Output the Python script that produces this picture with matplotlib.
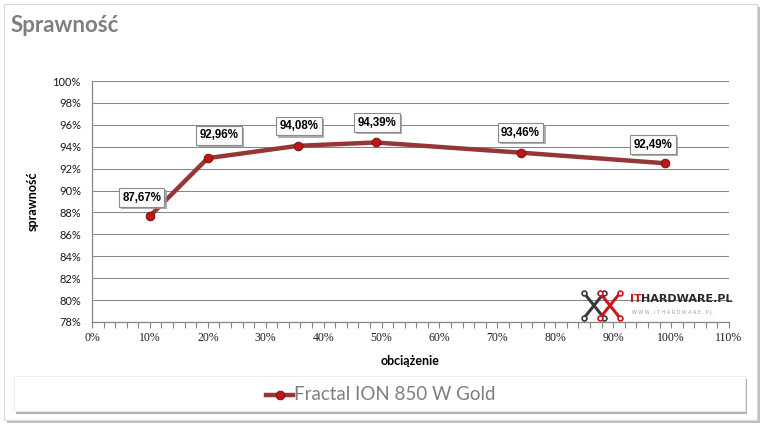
import numpy as np
import matplotlib
matplotlib.use('Agg')
import matplotlib.pyplot as plt
import matplotlib.patheffects as pe
from matplotlib.patches import Rectangle
from matplotlib.ticker import MultipleLocator, FuncFormatter

# data
load_pct = [10, 20, 35.5, 49, 74, 99]
efficiency = [87.67, 92.96, 94.08, 94.39, 93.46, 92.49]
series_name = 'Fractal ION 850 W Gold'

LINE_CLR = '#953735'
MARK_CLR = '#c0161b'
GRID_CLR = '#868686'
TITLE_CLR = '#7f7f7f'

fig = plt.figure(figsize=(7.68, 4.28), dpi=100)
fig.patch.set_facecolor('white')

# outer chart frame with shadow
W, H = 768.0, 428.0
def fr(x0, y0, x1, y1):
    return (x0 / W, 1 - y1 / H), (x1 - x0) / W, (y1 - y0) / H

xy, w, h = fr(4, 4, 757, 420)
fig.patches.append(Rectangle((xy[0] + 3 / W, xy[1] - 3 / H), w, h, transform=fig.transFigure,
                             fc='#bfbfbf', ec='none', zorder=-3))
fig.patches.append(Rectangle(xy, w, h, transform=fig.transFigure,
                             fc='white', ec='#d9d9d9', lw=0.8, zorder=-2.9))

# legend box with shadow
xy, w, h = fr(14, 376, 745, 411)
fig.patches.append(Rectangle((xy[0] + 2 / W, xy[1] - 3 / H), w, h, transform=fig.transFigure,
                             fc='#b3b3b3', ec='none', zorder=-2.8))
fig.patches.append(Rectangle(xy, w, h, transform=fig.transFigure,
                             fc='white', ec='#ececec', lw=0.6, zorder=-2.7))

fig.text(11 / W, 1 - 25 / H, 'Sprawność', fontsize=16, fontweight='bold',
         family='Lato', color=TITLE_CLR, va='center', ha='left')

ax = fig.add_axes([92 / W, 1 - 322 / H, (729 - 92) / W, (322 - 81) / H])
ax.set_facecolor('none')
ax.set_zorder(2)

ax.plot(load_pct, efficiency, color=LINE_CLR, lw=3.2, zorder=3, solid_capstyle='round')
ax.plot(load_pct, efficiency, ls='none', marker='o', ms=6.2, mfc=MARK_CLR,
        mec='#7a1010', mew=0.7, zorder=4)

# data labels (offsets in points)
label_off = [(-6, 9), (8, 12), (1, 10), (1, 10), (0, 10), (-9, 9)]
for x, y, (dx, dy) in zip(load_pct, efficiency, label_off):
    t = ax.annotate(f'{y:.2f}%'.replace('.', ','), (x, y), xytext=(dx, dy),
                    textcoords='offset points', ha='center', va='bottom',
                    fontsize=8.3, fontweight='bold', family='Liberation Sans',
                    color='black', zorder=6,
                    bbox=dict(boxstyle='square,pad=0.3', fc='#fbfbfb', ec='#8c8c8c', lw=0.8))
    t.get_bbox_patch().set_path_effects([
        pe.SimplePatchShadow(offset=(1.5, -1.5), shadow_rgbFace='#9a9a9a', alpha=0.8),
        pe.Normal()])

ax.set_xlim(0, 110)
ax.set_ylim(78, 100)
ax.xaxis.set_major_locator(MultipleLocator(10))
ax.xaxis.set_minor_locator(MultipleLocator(2))
ax.yaxis.set_major_locator(MultipleLocator(2))
pct = FuncFormatter(lambda v, p: f'{v:.0f}%')
ax.xaxis.set_major_formatter(pct)
ax.yaxis.set_major_formatter(pct)

ax.grid(axis='y', color=GRID_CLR, lw=0.75, zorder=1)
ax.set_axisbelow(True)
for s in ['top', 'right']:
    ax.spines[s].set_visible(False)
for s in ['left', 'bottom']:
    ax.spines[s].set_color(GRID_CLR)
    ax.spines[s].set_linewidth(0.9)

ax.tick_params(axis='x', which='both', direction='out', length=4, width=0.8,
               color=GRID_CLR, pad=3)
ax.tick_params(axis='y', which='both', length=0, pad=8)
for lb in ax.get_xticklabels():
    lb.set_family('Liberation Serif')
    lb.set_fontsize(8.5)
    lb.set_color('#1a1a2e')
for lb in ax.get_yticklabels():
    lb.set_family('Lato')
    lb.set_fontsize(8)
    lb.set_color('#1a1a1a')

ax.set_xlabel('obciążenie', fontsize=9, fontweight='bold', family='Lato', labelpad=8)
ax.set_ylabel('sprawność', fontsize=9, fontweight='bold', family='Lato', labelpad=10)

# watermark logo (simplified)
def fx(px):
    return px / W
def fy(py):
    return 1 - py / H
for (x0, y0, x1, y1), c in [((584, 293, 604, 318), '#3a3a3a'), ((584, 318, 604, 293), '#3a3a3a'),
                           ((600, 293, 620, 318), '#d0141b'), ((600, 318, 620, 293), '#d0141b')]:
    fig.add_artist(plt.Line2D([fx(x0), fx(x1)], [fy(y0), fy(y1)], transform=fig.transFigure,
                              color=c, lw=2.2, solid_capstyle='round', zorder=5))
    for px, py in [(x0, y0), (x1, y1)]:
        fig.add_artist(plt.Line2D([fx(px)], [fy(py)], transform=fig.transFigure, marker='o',
                                  ms=3.5, mfc='white', mec=c, mew=1.2, zorder=6))
fig.text(fx(630), fy(299), 'IT', color='#d0141b', fontsize=8, fontweight='bold',
         family='DejaVu Sans', va='center', ha='left', zorder=6)
fig.text(fx(641), fy(299), 'HARDWARE.PL', color='#2a2a2a', fontsize=8, fontweight='bold',
         family='DejaVu Sans', va='center', ha='left', zorder=6)
fig.text(fx(632), fy(312), 'W W W . I T H A R D W A R E . P L', color='#a0a0a0', fontsize=3.5,
         family='DejaVu Sans', va='center', ha='left', zorder=6)

# legend
lx0, lx1, ly = 266, 293, 394.5
fig.add_artist(plt.Line2D([fx(lx0), fx(lx1)], [fy(ly), fy(ly)], transform=fig.transFigure,
                          color=LINE_CLR, lw=3.2, zorder=5))
fig.add_artist(plt.Line2D([fx((lx0 + lx1) / 2)], [fy(ly)], transform=fig.transFigure,
                          marker='o', ms=6.2, mfc=MARK_CLR, mec='#7a1010', mew=0.7, zorder=6))
fig.text(fx(294), fy(ly), series_name, fontsize=13.5, family='Lato', color='#7f7f7f',
         va='center', ha='left', zorder=6)

fig.savefig('out.png', dpi=100, facecolor='white')
